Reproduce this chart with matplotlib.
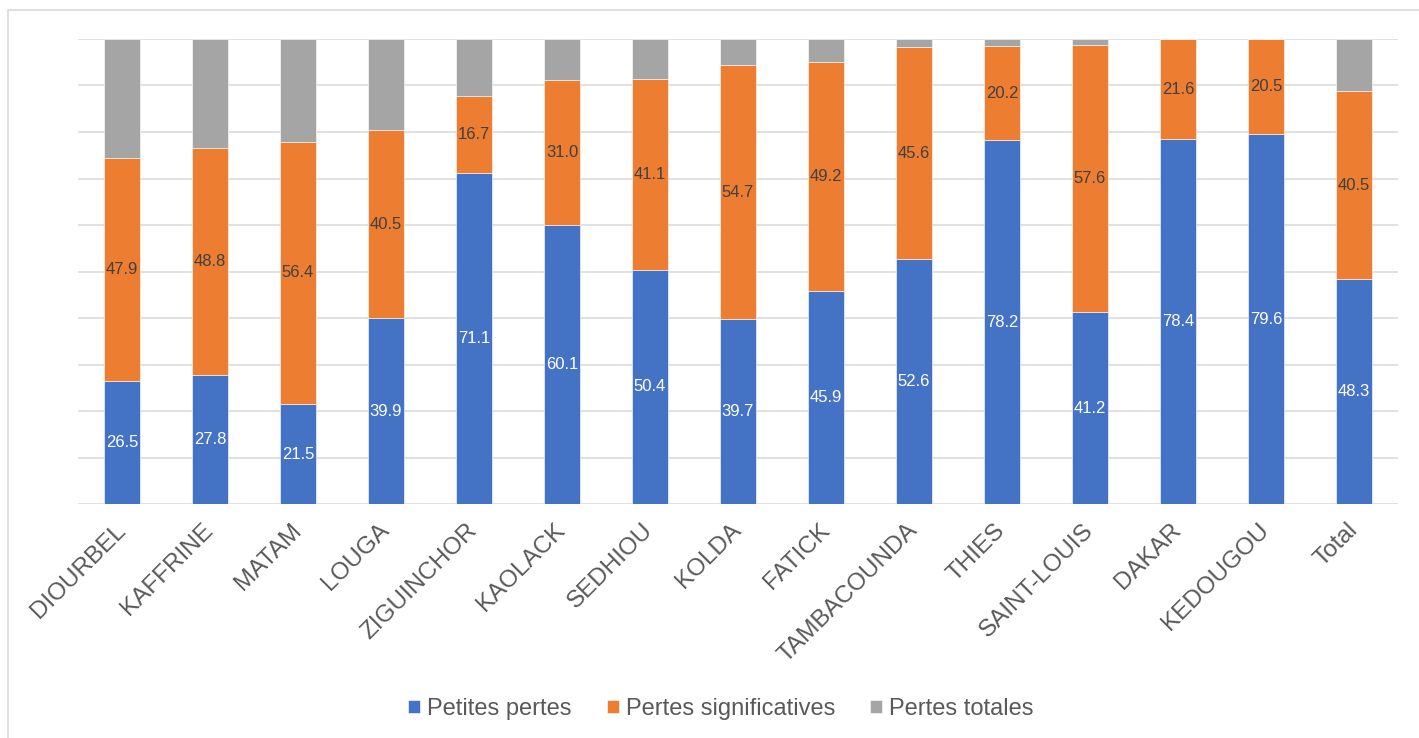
import matplotlib
matplotlib.use("Agg")
import matplotlib.pyplot as plt
from matplotlib.patches import Rectangle
import numpy as np

plt.rcParams['font.family'] = ['Liberation Sans', 'DejaVu Sans']

regions = ["DIOURBEL", "KAFFRINE", "MATAM", "LOUGA", "ZIGUINCHOR", "KAOLACK",
           "SEDHIOU", "KOLDA", "FATICK", "TAMBACOUNDA", "THIES", "SAINT-LOUIS",
           "DAKAR", "KEDOUGOU", "Total"]
petites = [26.5, 27.8, 21.5, 39.9, 71.1, 60.1, 50.4, 39.7, 45.9, 52.6, 78.2, 41.2, 78.4, 79.6, 48.3]
significatives = [47.9, 48.8, 56.4, 40.5, 16.7, 31.0, 41.1, 54.7, 49.2, 45.6, 20.2, 57.6, 21.6, 20.5, 40.5]
totales = [25.6, 23.4, 22.1, 19.6, 12.2, 8.9, 8.5, 5.6, 4.9, 1.8, 1.6, 1.2, 0.0, 0.0, 11.2]

series = [
    ("Petites pertes", petites, "#4472C4", "white"),
    ("Pertes significatives", significatives, "#ED7D31", "#404040"),
    ("Pertes totales", totales, "#A5A5A5", None),
]

fig = plt.figure(figsize=(14.19, 7.38), dpi=100)
ax = fig.add_axes([78 / 1419, 1 - 504 / 738, (1398 - 78) / 1419, (504 - 39) / 738])

x = np.arange(len(regions))
sums = np.array(petites) + np.array(significatives) + np.array(totales)
bottom = np.zeros(len(regions))
handles = []
for name, vals, color, lcolor in series:
    share = np.array(vals) / sums * 100
    bars = ax.bar(x, share, 0.4, bottom=bottom, color=color, edgecolor="white",
                  linewidth=0.4, label=name, zorder=3)
    handles.append(bars)
    if lcolor is not None:
        for xi, b, h, v in zip(x, bottom, share, vals):
            if v > 0:
                ax.text(xi, b + h / 2, f"{v:.1f}", ha="center", va="center",
                        fontsize=12, color=lcolor, zorder=4)
    bottom += share

ax.set_xlim(-0.5, len(regions) - 0.5)
ax.set_ylim(0, 100)
ax.set_yticks(np.arange(0, 101, 10))
ax.yaxis.grid(True, color="#D9D9D9", linewidth=1.1)
ax.set_axisbelow(True)
ax.tick_params(axis="y", left=False, labelleft=False)
ax.tick_params(axis="x", bottom=False, pad=13)
ax.set_xticks(x)
ax.set_xticklabels(regions, rotation=45, ha="right", va="center",
                   rotation_mode="anchor", fontsize=17.5, color="#595959")
for s in ax.spines.values():
    s.set_visible(False)

leg = fig.legend(handles=handles, labels=[s[0] for s in series], loc="center",
                 bbox_to_anchor=(0.508, 1 - 709 / 738), ncol=3, frameon=False,
                 fontsize=17, handlelength=0.5, handleheight=0.5,
                 handletextpad=0.3, columnspacing=1.5)
for t in leg.get_texts():
    t.set_color("#595959")

# chart border
fig.patches.append(Rectangle((8 / 1419, -0.1), 1.2, 1.1 - 10 / 738,
                             transform=fig.transFigure, fill=False,
                             edgecolor="#D9D9D9", linewidth=1.2))

fig.savefig("out.png", dpi=100)
